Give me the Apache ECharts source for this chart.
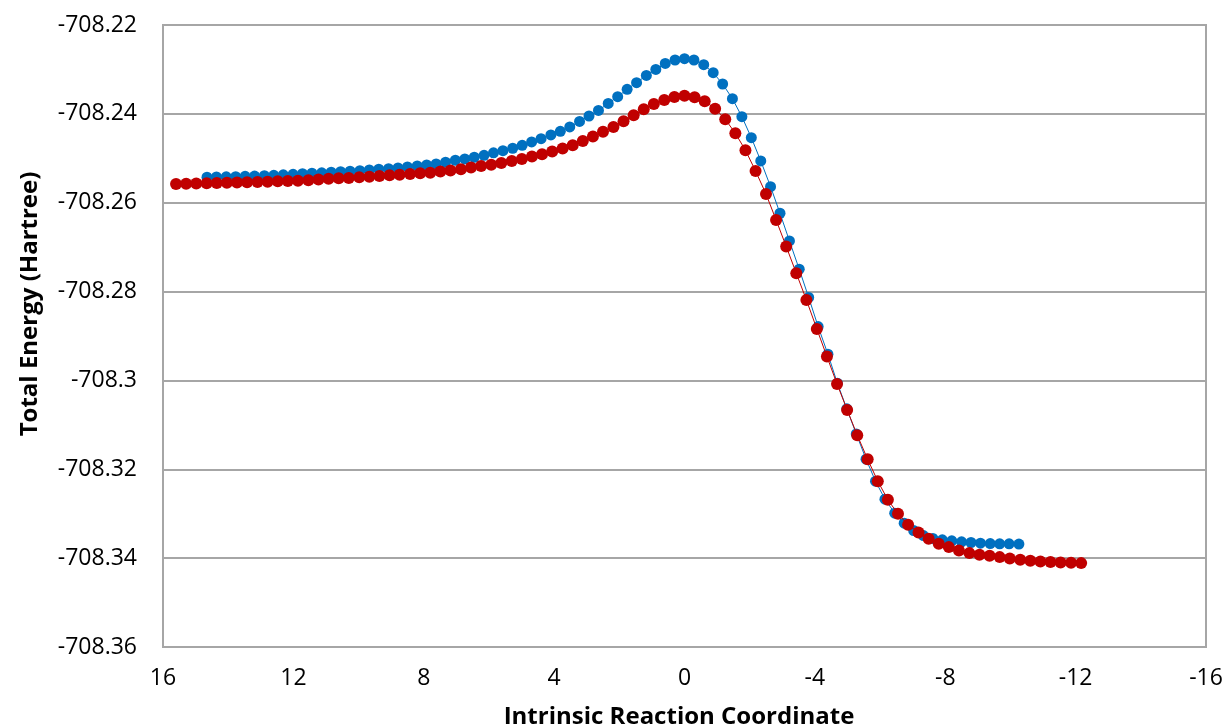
<!DOCTYPE html>
<html>
<head>
<meta charset="utf-8">
<script src="https://cdn.jsdelivr.net/npm/echarts@6/dist/echarts.min.js"></script>
<style>
html,body{margin:0;padding:0;background:#fff;}
#chart{width:1226px;height:726px;}
</style>
</head>
<body>
<div id="chart"></div>
<script>
// Intrinsic reaction coordinate values (left of TS positive, right negative)
const blueX = [14.65,14.36,14.06,13.77,13.48,13.19,12.89,12.60,12.31,12.01,11.72,11.43,11.13,10.84,10.55,10.26,9.96,9.67,9.38,9.08,8.79,8.50,8.20,7.91,7.62,7.33,7.03,6.74,6.45,6.15,5.86,5.57,5.27,4.98,4.69,4.40,4.10,3.81,3.52,3.22,2.93,2.64,2.34,2.05,1.76,1.47,1.17,0.88,0.59,0.29,0,
 -0.29,-0.59,-0.88,-1.17,-1.47,-1.76,-2.05,-2.34,-2.64,-2.93,-3.22,-3.52,-3.81,-4.10,-4.40,-4.69,-4.98,-5.27,-5.57,-5.86,-6.15,-6.45,-6.74,-7.03,-7.33,-7.62,-7.91,-8.20,-8.50,-8.79,-9.08,-9.38,-9.67,-9.96,-10.26];
const blueE = [-708.25427,-708.25420,-708.25416,-708.25413,-708.25407,-708.25400,-708.25393,-708.25384,-708.25373,-708.25362,-708.25348,-708.25337,-708.25326,-708.25314,-708.25301,-708.25292,-708.25278,-708.25263,-708.25247,-708.25233,-708.25218,-708.25195,-708.25173,-708.25150,-708.25128,-708.25089,-708.25044,-708.25015,-708.24977,-708.24932,-708.24876,-708.24828,-708.24774,-708.24707,-708.24633,-708.24558,-708.24475,-708.24392,-708.24295,-708.24171,-708.24048,-708.23924,-708.23766,-708.23613,-708.23447,-708.23298,-708.23136,-708.23001,-708.22866,-708.22788,-708.22758,
 -708.22788,-708.22893,-708.23073,-708.23328,-708.23658,-708.24063,-708.24536,-708.25060,-708.25638,-708.26237,-708.26860,-708.27497,-708.28131,-708.28788,-708.29409,-708.30062,-708.30640,-708.31203,-708.31772,-708.32267,-708.32672,-708.32987,-708.33212,-708.33378,-708.33491,-708.33558,-708.33588,-708.33610,-708.33633,-708.33648,-708.33662,-708.33671,-708.33678,-708.33678,-708.33682];

const redX = [15.60,15.29,14.98,14.66,14.35,14.04,13.73,13.42,13.10,12.79,12.48,12.17,11.86,11.54,11.23,10.92,10.61,10.30,9.98,9.67,9.36,9.05,8.74,8.42,8.11,7.80,7.49,7.18,6.86,6.55,6.24,5.93,5.62,5.30,4.99,4.68,4.37,4.06,3.74,3.43,3.12,2.81,2.50,2.18,1.87,1.56,1.25,0.94,0.62,0.31,0,
 -0.31,-0.62,-0.94,-1.25,-1.56,-1.87,-2.18,-2.50,-2.81,-3.12,-3.43,-3.74,-4.06,-4.37,-4.68,-4.99,-5.30,-5.62,-5.93,-6.24,-6.55,-6.86,-7.18,-7.49,-7.80,-8.11,-8.42,-8.74,-9.05,-9.36,-9.67,-9.98,-10.30,-10.61,-10.92,-11.23,-11.54,-11.86,-12.17];
const redE = [-708.25578,-708.25571,-708.25566,-708.25560,-708.25555,-708.25551,-708.25544,-708.25537,-708.25533,-708.25526,-708.25519,-708.25512,-708.25503,-708.25494,-708.25476,-708.25458,-708.25449,-708.25443,-708.25427,-708.25413,-708.25398,-708.25382,-708.25368,-708.25353,-708.25337,-708.25323,-708.25296,-708.25274,-708.25245,-708.25206,-708.25173,-708.25143,-708.25105,-708.25060,-708.25015,-708.24959,-708.24909,-708.24846,-708.24779,-708.24707,-708.24610,-708.24509,-708.24403,-708.24295,-708.24165,-708.24032,-708.23897,-708.23778,-708.23688,-708.23620,-708.23593,
 -708.23625,-708.23717,-708.23883,-708.24122,-708.24437,-708.24819,-708.25285,-708.25803,-708.26388,-708.26984,-708.27587,-708.28188,-708.28840,-708.29463,-708.30078,-708.30663,-708.31232,-708.31776,-708.32267,-708.32688,-708.33003,-708.33250,-708.33423,-708.33565,-708.33678,-708.33752,-708.33828,-708.33887,-708.33925,-708.33948,-708.33977,-708.34008,-708.34038,-708.34060,-708.34076,-708.34089,-708.34098,-708.34105,-708.34112];

const xTitle = 'Intrinsic Reaction Coordinate';
const yTitle = 'Total Energy (Hartree)';

const FONT = '"Open Sans", "Liberation Sans", sans-serif';
const blueData = blueX.map((x, i) => [x, blueE[i]]);
const redData = redX.map((x, i) => [x, redE[i]]);

const chart = echarts.init(document.getElementById('chart'), null, {renderer: 'canvas'});
chart.setOption({
  animation: false,
  backgroundColor: '#ffffff',
  grid: {left: 163, right: 20, top: 25, bottom: 79, show: true, borderColor: '#A6A6A6', borderWidth: 2, backgroundColor: 'transparent'},
  title: [{
    text: xTitle, left: 674, top: 700, textAlign: 'center',
    textStyle: {fontFamily: FONT, fontWeight: 'bold', fontSize: 24, color: '#000'}
  }],
  graphic: [{
    type: 'text', x: 30, y: 304, rotation: Math.PI / 2,
    style: {text: yTitle, fontFamily: FONT, fontWeight: 'bold', fontSize: 24, fill: '#000', align: 'center', verticalAlign: 'middle'}
  }],
  xAxis: {
    type: 'value', inverse: true, min: -16, max: 16, interval: 4,
    axisLine: {show: false}, axisTick: {show: false}, splitLine: {show: false},
    axisLabel: {fontFamily: FONT, fontSize: 23, color: '#000', margin: 20}
  },
  yAxis: {
    type: 'value', min: -708.36, max: -708.22, interval: 0.02,
    axisLine: {show: false}, axisTick: {show: false},
    splitLine: {show: true, lineStyle: {color: '#A6A6A6', width: 2}},
    axisLabel: {fontFamily: FONT, fontSize: 23, color: '#000', margin: 26,
      formatter: v => String(Math.round(v * 100) / 100)}
  },
  series: [
    {type: 'line', data: blueData, symbol: 'circle', symbolSize: 11, showSymbol: true,
     lineStyle: {color: '#0070C0', width: 1}, itemStyle: {color: '#0070C0'}, z: 2},
    {type: 'line', data: redData, symbol: 'circle', symbolSize: 12, showSymbol: true,
     lineStyle: {color: '#C00000', width: 1}, itemStyle: {color: '#C00000'}, z: 3}
  ]
});
</script>
</body>
</html>
